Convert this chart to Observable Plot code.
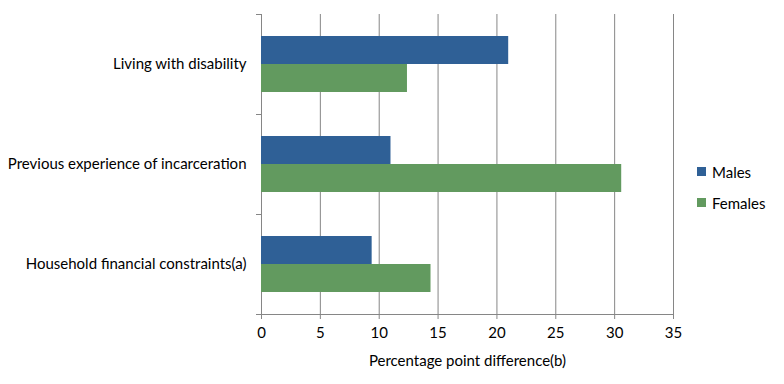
<!DOCTYPE html>
<html><head><meta charset="utf-8">
<script src="https://cdn.jsdelivr.net/npm/d3@7"></script>
<script src="https://cdn.jsdelivr.net/npm/@observablehq/plot@0.6"></script>
<style>
body{margin:0;background:#fff;font-family:Lato,sans-serif;}
#wrap{position:relative;width:784px;height:384px;}
#legend{position:absolute;left:697px;top:156px;font-size:15px;color:#000;}
.item{display:flex;align-items:center;height:31px;}
.sw{width:9px;height:9px;margin-right:6px;}
</style>
</head><body>
<div id="wrap"><div id="legend"></div></div>
<script>
const categories = ["Living with disability", "Previous experience of incarceration", "Household financial constraints(a)"];
const series = ["Males", "Females"];
const males = [21.0, 11.0, 9.4];
const females = [12.4, 30.6, 14.4];
const xTicks = [0, 5, 10, 15, 20, 25, 30, 35];
const colors = ["#2f6096", "#629a5f"];
const xLabel = "Percentage point difference(b)";

const data = [];
categories.forEach((c, i) => {
  data.push({category: c, sex: series[0], value: males[i]});
  data.push({category: c, sex: series[1], value: females[i]});
});

const W = 784, H = 384, mL = 261, mR = 111, mT = 14, mB = 70;
const plotW = W - mL - mR;
const gray = "#868686";

const chart = Plot.plot({
  width: W, height: H,
  marginLeft: mL, marginRight: mR, marginTop: mT, marginBottom: mB,
  style: {fontFamily: "Lato, sans-serif", fontSize: "15px", color: "#000", background: "#fff"},
  x: {domain: [0, 35], axis: null},
  y: {domain: series, paddingInner: 0, paddingOuter: 0.75, axis: null},
  fy: {domain: categories, padding: 0, axis: null},
  color: {domain: series, range: colors},
  marks: [
    Plot.ruleX(xTicks, {stroke: gray, strokeWidth: 1, strokeOpacity: 1}),
    Plot.frame({anchor: "top", insetLeft: -5, insetRight: plotW, stroke: gray, strokeOpacity: 1}),
    Plot.frame({anchor: "bottom", insetLeft: -5, facetAnchor: "bottom", stroke: gray, strokeOpacity: 1}),
    Plot.barX(data, {fy: "category", y: "sex", x: "value", fill: "sex"}),
    Plot.axisX({ticks: xTicks, tickSize: 5, tickPadding: 8, stroke: gray, strokeOpacity: 1, fill: "#000",
      label: xLabel, labelAnchor: "center", labelOffset: 51, labelArrow: "none"}),
    Plot.axisFy({anchor: "left", tickSize: 0, tickPadding: 15, label: null, fill: "#000"})
  ]
});
document.getElementById("wrap").prepend(chart);

const legend = document.getElementById("legend");
series.forEach((s, i) => {
  const item = document.createElement("div");
  item.className = "item";
  const sw = document.createElement("div");
  sw.className = "sw";
  sw.style.background = colors[i];
  const t = document.createElement("span");
  t.textContent = s;
  item.append(sw, t);
  legend.append(item);
});
</script>
</body></html>
